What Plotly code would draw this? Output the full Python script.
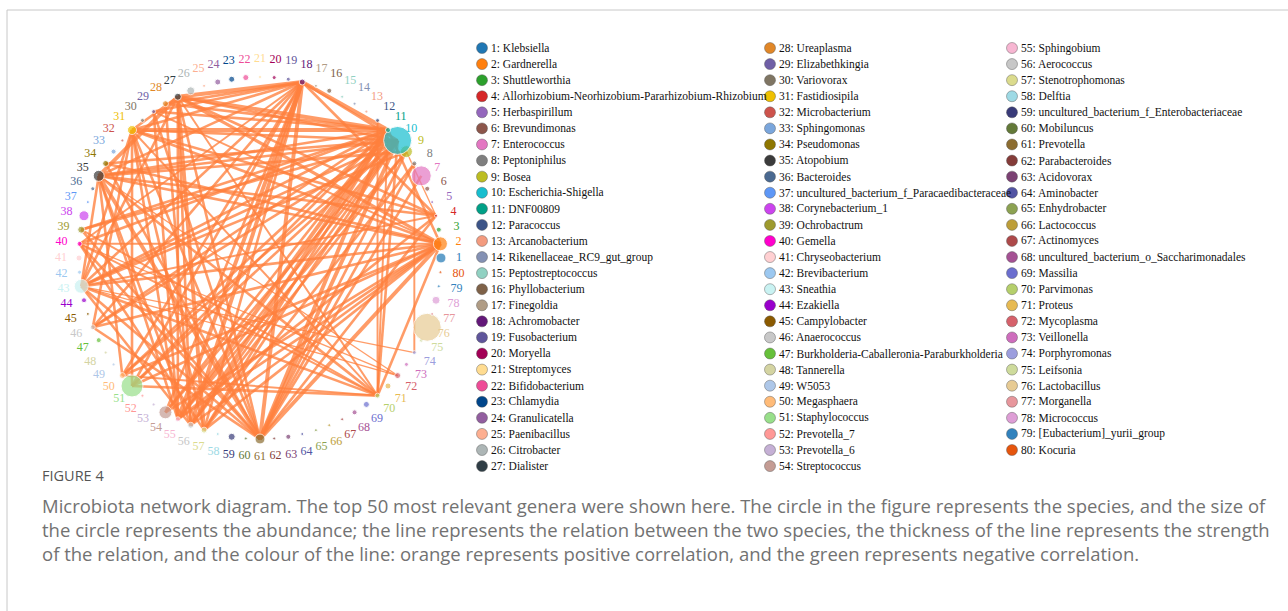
import math
import plotly.graph_objects as go

# ---- genera shown in the network (index = position in list + 1) ----
genus_names = [
    "Klebsiella", "Gardnerella", "Shuttleworthia",
    "Allorhizobium-Neorhizobium-Pararhizobium-Rhizobium", "Herbaspirillum",
    "Brevundimonas", "Enterococcus", "Peptoniphilus", "Bosea", "Escherichia-Shigella",
    "DNF00809", "Paracoccus", "Arcanobacterium", "Rikenellaceae_RC9_gut_group",
    "Peptostreptococcus", "Phyllobacterium", "Finegoldia", "Achromobacter",
    "Fusobacterium", "Moryella", "Streptomyces", "Bifidobacterium", "Chlamydia",
    "Granulicatella", "Paenibacillus", "Citrobacter", "Dialister", "Ureaplasma",
    "Elizabethkingia", "Variovorax", "Fastidiosipila", "Microbacterium",
    "Sphingomonas", "Pseudomonas", "Atopobium", "Bacteroides",
    "uncultured_bacterium_f_Paracaedibacteraceae", "Corynebacterium_1",
    "Ochrobactrum", "Gemella", "Chryseobacterium", "Brevibacterium", "Sneathia",
    "Ezakiella", "Campylobacter", "Anaerococcus",
    "Burkholderia-Caballeronia-Paraburkholderia", "Tannerella", "W5053",
    "Megasphaera", "Staphylococcus", "Prevotella_7", "Prevotella_6",
    "Streptococcus", "Sphingobium", "Aerococcus", "Stenotrophomonas", "Delftia",
    "uncultured_bacterium_f_Enterobacteriaceae", "Mobiluncus", "Prevotella",
    "Parabacteroides", "Acidovorax", "Aminobacter", "Enhydrobacter",
    "Lactococcus", "Actinomyces", "uncultured_bacterium_o_Saccharimonadales",
    "Massilia", "Parvimonas", "Proteus", "Mycoplasma", "Veillonella",
    "Porphyromonas", "Leifsonia", "Lactobacillus", "Morganella", "Micrococcus",
    "[Eubacterium]_yurii_group", "Kocuria",
]

genus_colors = [
    "#1f77b4", "#ff7f0e", "#2ca02c", "#d62728", "#9467bd", "#8c564b", "#e377c2",
    "#7f7f7f", "#bcbd22", "#17becf",
    "#00a087", "#3c5488", "#f39b7f", "#8491b4", "#91d1c2", "#7e6148", "#b09c85",
    "#631879", "#5f559b", "#a20056", "#ffdc91", "#ee4c97", "#00468b", "#925e9f",
    "#fdaf91", "#adb6b6", "#2f3d45", "#e18727", "#6f5fa6", "#7f7563", "#efc000",
    "#cd534c", "#7aa6dc", "#8f7700", "#3b3b3b", "#4a6990", "#5e97f6", "#cc44ee",
    "#9e9a2e", "#ff00cc", "#ffd0d2", "#9cc8f0", "#c9f2f2", "#9900cc", "#8b5a00",
    "#c8c8c8", "#66c03a", "#d4d4a2",
    "#aec7e8", "#ffbb78", "#98df8a", "#ff9896", "#c5b0d5", "#c49c94", "#f7b6d2",
    "#c7c7c7", "#dbdb8d", "#9edae5",
    "#393b79", "#637939", "#8c6d31", "#843c39", "#7b4173", "#5254a3", "#8ca252",
    "#bd9e39", "#ad494a", "#a55194", "#6b6ecf", "#b5cf6b", "#e7ba52", "#d6616b",
    "#ce6dbd", "#9c9ede", "#cedb9c", "#e7cb94", "#e7969c", "#de9ed6",
    "#3182bd", "#e6550d",
]

# relative abundance, expressed as node diameter (px)
node_diameter = [
    10, 14, 5, 3, 3, 5, 20, 5, 12, 28,
    5, 4, 3, 3, 3, 5, 3, 6, 4, 4,
    3, 6, 6, 6, 3, 8, 7, 6, 4, 4,
    9, 3, 5, 6, 11, 4, 3, 10, 7, 5,
    6, 4, 14, 5, 3, 5, 5, 3, 3, 6,
    22, 3, 3, 13, 5, 6, 6, 3, 7, 3,
    10, 3, 5, 3, 3, 3, 3, 5, 6, 5,
    6, 6, 4, 4, 4, 28, 3, 8, 3, 3,
]

# correlations: (genus a, genus b, strength)
edge_a = [18, 18, 18, 18, 18, 18, 18, 18, 18, 18, 18, 18, 18, 18, 18, 18, 18, 18,
          27, 27, 27, 27, 27, 27, 27, 27, 27, 27, 27, 27,
          31, 31, 31, 31, 31, 31, 31, 31, 31, 31, 31,
          35, 35, 35, 35, 35, 35, 35, 35, 35, 35, 35,
          40, 40, 40, 40, 40,
          43, 43, 43, 43, 43, 43, 43, 43, 43, 43,
          39, 39, 39, 39, 34, 34, 34, 29, 29, 29, 29, 28, 28,
          46, 46, 46, 46, 50, 50, 50, 50, 51, 51, 51, 51,
          55, 55, 55, 55, 55, 56, 56, 56, 56, 57, 57, 57, 57,
          61, 61, 61, 61, 61, 61, 61,
          70, 70, 70, 70, 74, 72, 72, 54, 54, 54, 2, 9]
edge_b = [27, 29, 11, 10, 4, 61, 55, 56, 57, 54, 43, 46, 35, 51, 40, 50, 31, 28,
          11, 10, 2, 4, 57, 61, 35, 31, 43, 55, 56, 70,
          11, 10, 43, 51, 61, 55, 57, 2, 4, 70, 46,
          11, 10, 2, 61, 55, 56, 70, 4, 9, 43, 50,
          2, 11, 61, 70, 57,
          11, 10, 2, 61, 70, 74, 72, 9, 56, 4,
          11, 70, 61, 10, 10, 61, 2, 11, 61, 55, 2, 11, 56,
          11, 2, 10, 61, 11, 10, 2, 70, 2, 11, 10, 70,
          11, 10, 2, 9, 4, 11, 10, 2, 9, 11, 10, 2, 8,
          11, 10, 2, 9, 8, 4, 7,
          12, 11, 10, 2, 8, 35, 40, 2, 11, 10, 11, 4]
edge_w = [3, 2, 3, 2, 2, 3, 3, 3, 2, 2, 2, 2, 2, 2, 1.5, 2, 2, 2,
          3, 2, 2.5, 2, 3, 2, 3, 2, 2, 2, 2, 1.5,
          3, 2, 2, 2, 2, 2, 2, 2, 2, 1.5, 2,
          2, 2, 2, 3, 2, 2, 2, 2, 2, 2, 2,
          1.5, 2, 2, 1.5, 2,
          2, 2, 2, 2, 2, 1, 1, 2, 2, 1.5,
          2, 1.5, 2, 2, 2, 2, 2, 2, 2, 2, 1.5, 2, 2,
          2, 2, 2, 2, 2, 2, 2, 1.5, 2, 2, 2, 2,
          3, 2, 2, 2, 2, 3, 2, 2, 2, 2, 2, 2, 2,
          3, 3, 3, 2, 2, 2, 2,
          1.5, 1.5, 2, 2, 1.5, 1, 1, 2, 2, 2, 2, 1]

caption_title = "FIGURE 4"
caption_lines = [
    "Microbiota network diagram. The top 50 most relevant genera were shown here. The circle in the figure represents the species, and the size of",
    "the circle represents the abundance; the line represents the relation between the two species, the thickness of the line represents the strength",
    "of the relation, and the colour of the line: orange represents positive correlation, and the green represents negative correlation.",
]

# ---- circular layout ----
W, H = 1288, 611
CX, CY, R, R_LABEL = 260, 258, 181, 199
n = len(genus_names)
step = 2 * math.pi / n


def pos(k, rad):
    a = (k - 1) * step
    return CX + rad * math.cos(a), CY - rad * math.sin(a)


node_xy = [pos(k, R) for k in range(1, n + 1)]
label_xy = [pos(k, R_LABEL) for k in range(1, n + 1)]

fig = go.Figure()

# edges grouped by line width
for w in sorted(set(edge_w)):
    xs, ys = [], []
    for a, b, ww in zip(edge_a, edge_b, edge_w):
        if ww != w:
            continue
        xa, ya = node_xy[a - 1]
        xb, yb = node_xy[b - 1]
        xs += [xa, xb, None]
        ys += [ya, yb, None]
    fig.add_trace(go.Scatter(
        x=xs, y=ys, mode="lines",
        line=dict(color="rgba(255,128,62,0.78)", width=w * 1.3),
        hoverinfo="skip", showlegend=False,
    ))

# nodes
fig.add_trace(go.Scatter(
    x=[p[0] for p in node_xy], y=[p[1] for p in node_xy], mode="markers",
    marker=dict(size=node_diameter, color=genus_colors,
                line=dict(color="white", width=1)),
    text=genus_names, hoverinfo="text", showlegend=False,
))

# node numbers
fig.add_trace(go.Scatter(
    x=[p[0] for p in label_xy], y=[p[1] for p in label_xy], mode="text",
    text=[str(k) for k in range(1, n + 1)],
    textfont=dict(family="Liberation Serif", size=12, color=genus_colors),
    textposition="middle center", hoverinfo="skip", showlegend=False,
))

# legend in three columns
col_x = [482, 770, 1012]
col_start = [0, 27, 54]
col_len = [27, 27, 26]
LEG_Y0, LEG_DY = 48, 16.08
leg_x, leg_y = [], []
annotations = []
for c in range(3):
    for r in range(col_len[c]):
        i = col_start[c] + r
        x = col_x[c]
        y = LEG_Y0 + r * LEG_DY
        leg_x.append(x)
        leg_y.append(y)
        annotations.append(dict(
            x=x + 6.5, y=y, xref="x", yref="y", xanchor="left", yanchor="middle",
            text=f"{i + 1}: {genus_names[i]}", showarrow=False,
            font=dict(family="Liberation Serif", size=11.5, color="#111"),
        ))
fig.add_trace(go.Scatter(
    x=leg_x, y=leg_y, mode="markers",
    marker=dict(size=11, color=genus_colors, line=dict(color="rgba(80,80,80,0.6)", width=0.7)),
    hoverinfo="skip", showlegend=False,
))

# caption
annotations.append(dict(
    x=40, y=475, xref="x", yref="y", xanchor="left", yanchor="middle",
    text=caption_title, showarrow=False,
    font=dict(family="Open Sans", size=14.5, color="#555"),
))
for j, line in enumerate(caption_lines):
    annotations.append(dict(
        x=40, y=505 + 24 * j, xref="x", yref="y", xanchor="left", yanchor="middle",
        text=line, showarrow=False,
        font=dict(family="Open Sans", size=18.5, color="#727272"),
    ))

fig.update_layout(
    width=W, height=H, margin=dict(l=0, r=0, t=0, b=0),
    paper_bgcolor="white", plot_bgcolor="white",
    xaxis=dict(range=[0, W], visible=False, fixedrange=True),
    yaxis=dict(range=[H, 0], visible=False, fixedrange=True),
    annotations=annotations,
    shapes=[
        dict(type="line", xref="x", yref="y", x0=7, x1=W, y0=10, y1=10,
             line=dict(color="#c8c8c8", width=1)),
        dict(type="line", xref="x", yref="y", x0=7, x1=7, y0=10, y1=H,
             line=dict(color="#c8c8c8", width=1)),
    ],
)

fig.write_html("out.html")
